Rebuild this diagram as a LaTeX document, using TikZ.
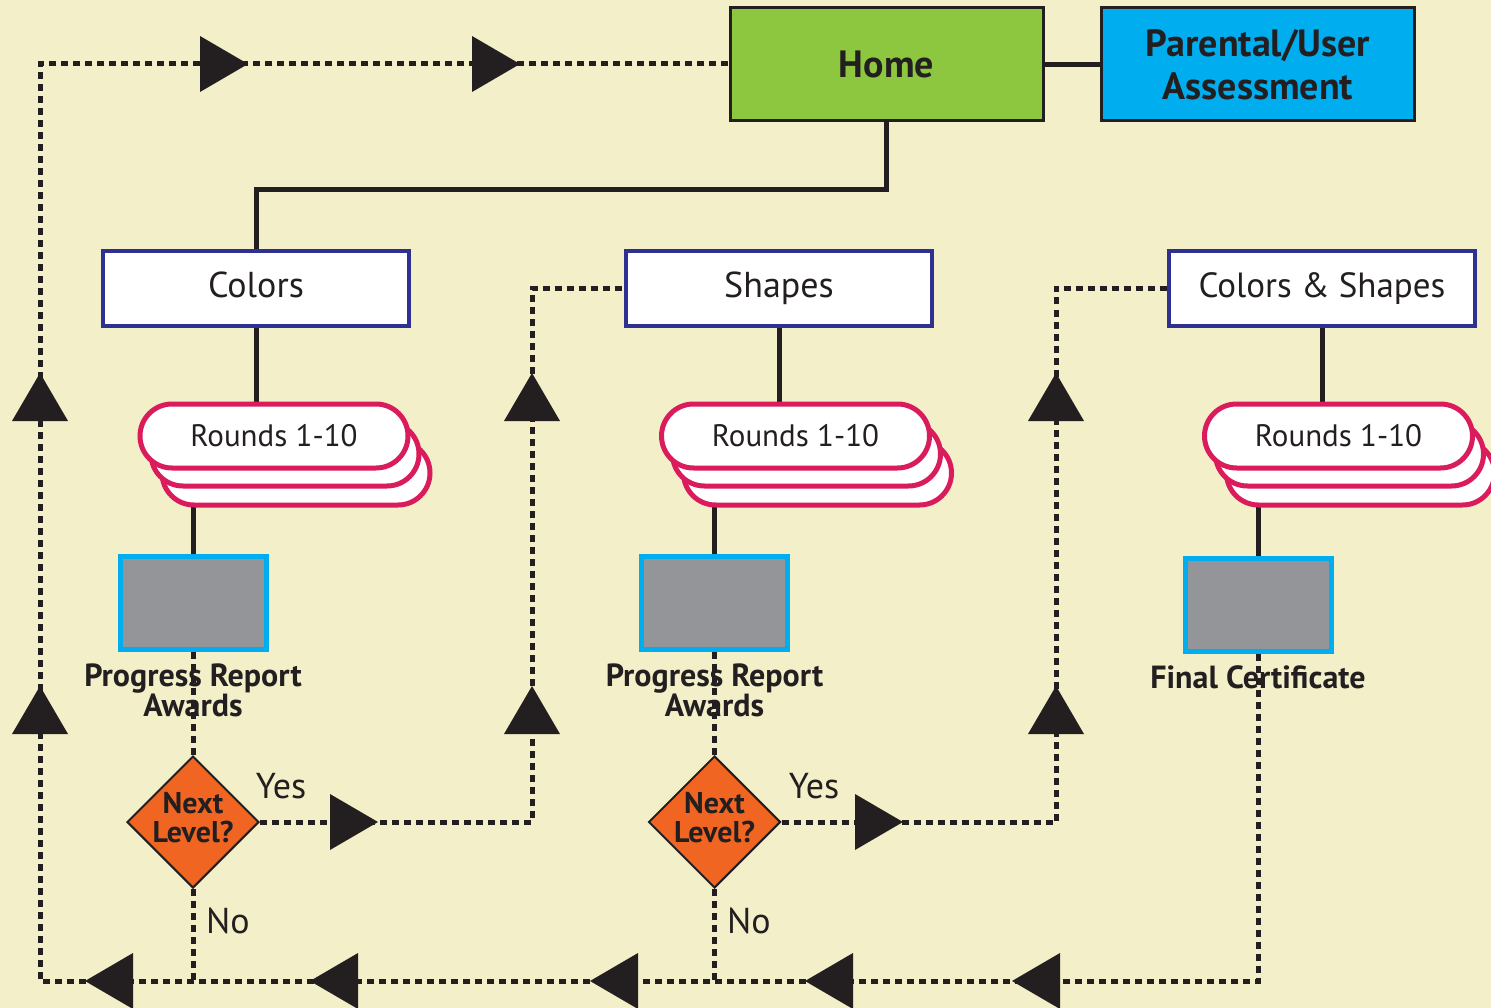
\documentclass[tikz,border=0pt]{standalone}
\usepackage{fontspec}
\setmainfont{PT Sans}
\usetikzlibrary{shapes.geometric,shapes.misc,calc}
\definecolor{bg}{RGB}{242,239,201}
\definecolor{dark}{RGB}{35,31,32}
\definecolor{hgreen}{RGB}{141,198,63}
\definecolor{hcyan}{RGB}{0,174,239}
\definecolor{navy}{RGB}{46,49,146}
\definecolor{hpink}{RGB}{218,28,92}
\definecolor{hgray}{RGB}{147,149,152}
\definecolor{horange}{RGB}{241,101,34}
\newcommand\myarR[2]{\fill[dark] ({#1-48},{#2-28}) -- (#1,#2) -- ({#1-48},{#2+28}) -- cycle;}
\newcommand\myarL[2]{\fill[dark] ({#1+48},{#2-28}) -- (#1,#2) -- ({#1+48},{#2+28}) -- cycle;}
\newcommand\myarU[2]{\fill[dark] ({#1-28},{#2+48}) -- (#1,#2) -- ({#1+28},{#2+48}) -- cycle;}
\begin{document}
\begin{tikzpicture}[x=1pt,y=-1pt,
  bigbox/.style={draw=dark,line width=3pt,minimum width=313pt,minimum height=113pt,inner sep=0pt,
    font=\bfseries\fontsize{38}{43}\selectfont,align=center,text=dark},
  topic/.style={draw=navy,fill=white,line width=4.5pt,minimum width=306pt,minimum height=75pt,inner sep=0pt,
    font=\fontsize{36}{38}\selectfont,text=dark,text height=25pt,text depth=6pt},
  pill/.style={rounded rectangle,draw=hpink,fill=white,line width=5pt,minimum width=268pt,minimum height=64pt,inner sep=0pt,
    font=\fontsize{31}{34}\selectfont,text=dark},
  award/.style={draw=hcyan,fill=hgray,line width=5pt,minimum width=146pt,minimum height=93pt,inner sep=0pt},
  lbl/.style={font=\bfseries\fontsize{32}{34}\selectfont,align=center,text=dark},
  decide/.style={diamond,draw=dark,fill=horange,line width=2pt,minimum width=132pt,minimum height=132pt,inner sep=0pt,
    aspect=1,text=dark},
  dtext/.style={font=\bfseries\fontsize{30}{29}\selectfont,align=center,text=dark},
  yn/.style={font=\fontsize{36}{38}\selectfont,text=dark},
  solidc/.style={draw=dark,line width=5pt},
  dashc/.style={draw=dark,line width=5pt,dash pattern=on 7pt off 5pt}
]
\useasboundingbox (0,0) rectangle (1491,1008);
\fill[bg] (0,0) rectangle (1491,1008);

% top boxes
\node[bigbox,fill=hgreen] (home) at (886.5,64.5) {Home};
\node[bigbox,fill=hcyan] (parent) at (1258,64.5) {Parental/User\\[0pt]Assessment};
\draw[solidc] (home.east) -- (parent.west);

% topic boxes
\node[topic] (colors) at (256,288.5) {Colors};
\node[topic] (shapes) at (779,288.5) {Shapes};
\node[topic,font=\fontsize{35}{38}\selectfont] (cs) at (1322,288.5) {Colors \& Shapes};
\draw[solidc] (home.south) -- ++(0,67) -| (colors.north);

% award boxes
\node[award] (gb1) at (193,602.5) {};
\node[award] (gb2) at (714.5,602.5) {};
\node[award] (gb3) at (1258.5,604.5) {};

% pill anchors
\coordinate (p1) at (274,436);
\coordinate (p2) at (795.5,436);
\coordinate (p3) at (1338.5,436);

% solid connectors (under the pills)
\draw[solidc] (colors.south) -- (colors.south |- p1);
\draw[solidc] (shapes.south) -- (shapes.south |- p2);
\draw[solidc] (cs.south) -- (cs.south |- p3);
\draw[solidc] (gb1.north) -- (gb1.north |- p1);
\draw[solidc] (gb2.north) -- (gb2.north |- p2);
\draw[solidc] (gb3.north) -- (gb3.north |- p3);

% pill stacks
\foreach \p in {p1,p2,p3}{
  \node[pill] at ($(\p)+(22,37)$) {};
  \node[pill] at ($(\p)+(11,18)$) {};
}
\node[pill] (r1) at (p1) {Rounds 1-10};
\node[pill] (r2) at (p2) {Rounds 1-10};
\node[pill] (r3) at (p3) {Rounds 1-10};

% labels
\node[lbl] (l1) at (193,690) {Progress Report\\[-4pt]Awards};
\node[lbl] (l2) at (714.5,690) {Progress Report\\[-4pt]Awards};
\node[lbl] (l3) at (1258,677) {Final Certificate};

% decisions
\node[decide] (d1) at (193,822) {};
\node[decide] (d2) at (714.5,822) {};
\node[dtext] (t1) at (193,818) {Next\\Level?};
\node[dtext] (t2) at (714.5,818) {Next\\Level?};
\node[yn] (y1) at (281,786) {Yes};
\node[yn] (y2) at (814,786) {Yes};
\node[yn] (n1) at (228,921) {No};
\node[yn] (n2) at (749,921) {No};

% dashed connectors
\coordinate (bl) at (40,981);
\coordinate (tl) at (40,64);
\draw[dashc] (gb1.south) -- (d1.north);
\draw[dashc] (gb2.south) -- (d2.north);
\draw[dashc] (d1.east) -- (532,822) |- (shapes.west);
\draw[dashc] (d2.east) -- (1056,822) |- (cs.west);
\draw[dashc] (d1.south) -- (d1.south |- bl);
\draw[dashc] (d2.south) -- (d2.south |- bl);
\draw[dashc] (gb3.south) -- (gb3.south |- bl) -- (bl) -- (tl) -- (tl -| home.west);

% arrowheads
\myarR{248}{64}
\myarR{520}{64}
\myarU{40}{373}
\myarU{40}{686}
\myarR{378}{822}
\myarR{903}{822}
\myarU{532}{373}
\myarU{532}{686}
\myarU{1056}{373}
\myarU{1056}{686}
\myarL{85}{981}
\myarL{310}{981}
\myarL{590}{981}
\myarL{805}{981}
\myarL{1012}{981}
\end{tikzpicture}
\end{document}
